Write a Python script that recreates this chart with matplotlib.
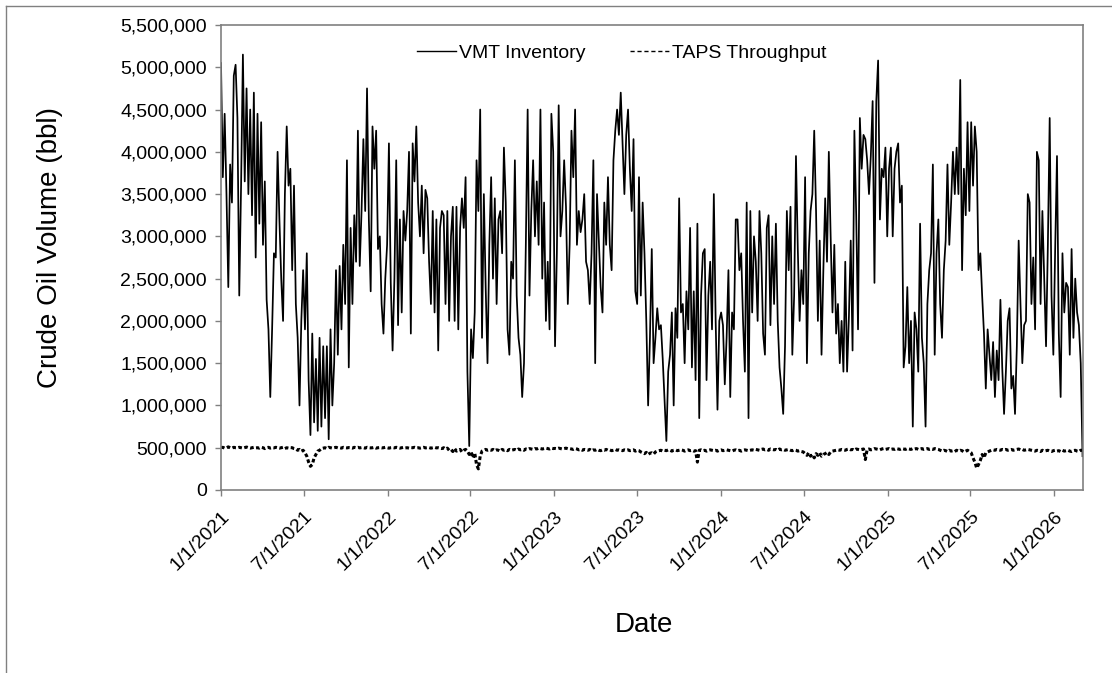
import matplotlib
matplotlib.use("Agg")
import matplotlib.pyplot as plt
import matplotlib.dates as mdates
from matplotlib.lines import Line2D
from matplotlib.ticker import FuncFormatter
import pandas as pd

plt.rcParams["font.family"] = ["Liberation Sans", "DejaVu Sans"]

# ── data (thousand bbl, one reading every 4 days from 1/1/2021) ──────────────
START = "2021-01-01"
STEP = "4D"

VMT_INVENTORY_K = [
    5050, 3700, 4450, 3500, 2400, 3850, 3400, 4900, 5030, 4400,
    2300, 3600, 5150, 3650, 4750, 3500, 4500, 3250, 4700, 2750,
    4450, 3150, 4350, 2900, 3650, 2250, 1900, 1100, 1900, 2800,
    2750, 4000, 3200, 2500, 2000, 3500, 4300, 3600, 3800, 2600,
    3600, 2200, 1800, 1000, 2000, 2600, 1900, 2800, 1300, 650,
    1850, 800, 1550, 700, 1800, 750, 1700, 850, 1700, 600,
    1900, 1000, 1500, 2600, 1600, 2650, 1900, 2900, 2200, 3900,
    1450, 3100, 2200, 3250, 2700, 4250, 2650, 3300, 4150, 3300,
    4750, 3200, 2350, 4300, 3800, 4250, 2850, 3000, 2200, 1850,
    2500, 2900, 4100, 2450, 1650, 2500, 3900, 1950, 3200, 2100,
    3300, 2950, 3300, 4000, 1850, 4100, 3650, 4300, 3400, 3000,
    3600, 2800, 3550, 3450, 2700, 2200, 3300, 2100, 3200, 1650,
    3100, 3300, 3250, 2200, 3300, 2000, 3000, 3350, 2000, 3350,
    1900, 3100, 3450, 3100, 3700, 1400, 520, 1900, 1560, 2100,
    3900, 3300, 4500, 1800, 3500, 2400, 1500, 2900, 3700, 2500,
    3450, 2200, 3200, 3300, 2800, 4050, 3400, 1900, 1600, 2700,
    2500, 3900, 2300, 1800, 1600, 1100, 1500, 2900, 4500, 2300,
    3300, 3900, 3000, 3650, 2900, 4500, 2500, 3400, 2000, 2700,
    1900, 4450, 4000, 1700, 2800, 4550, 3000, 3300, 3900, 3350,
    2200, 2900, 4250, 3700, 4500, 2900, 3300, 3050, 3200, 3500,
    2700, 2600, 2200, 2800, 3900, 1500, 3500, 2950, 2400, 2100,
    3400, 2900, 3700, 2900, 2600, 3900, 4250, 4500, 4200, 4700,
    4100, 3500, 4200, 4500, 3800, 3300, 4150, 2350, 2200, 3700,
    2300, 3400, 2800, 2000, 1000, 1800, 2850, 1500, 1800, 2150,
    1900, 1950, 1550, 1050, 580, 1400, 1600, 2100, 1000, 2150,
    1800, 3450, 2100, 2200, 1500, 2350, 1900, 3100, 1450, 2350,
    1300, 3150, 850, 2300, 2800, 2850, 1300, 2300, 2700, 1900,
    3500, 2000, 950, 2000, 2100, 1950, 1250, 1800, 2600, 1100,
    2100, 1900, 3200, 3200, 2600, 2800, 2000, 1400, 3400, 850,
    3300, 2100, 3000, 2700, 2000, 3300, 2800, 1850, 1600, 3100,
    3250, 1950, 3000, 2200, 3150, 2000, 1450, 1200, 900, 1700,
    3300, 2600, 3350, 1600, 2300, 3950, 2850, 2000, 2600, 2200,
    3700, 1500, 2800, 3300, 3500, 4250, 3300, 2000, 2950, 1600,
    2600, 3450, 2700, 4000, 3000, 2100, 2900, 1850, 2200, 1500,
    2000, 1400, 2700, 1400, 2050, 2950, 1650, 4250, 3250, 1900,
    4400, 3800, 4200, 4150, 3900, 3500, 3950, 4600, 2450, 4600,
    5080, 3200, 3800, 3700, 4050, 3000, 3800, 4050, 3000, 3800,
    4000, 4100, 3400, 3600, 1450, 1700, 2400, 1500, 2000, 750,
    2100, 1900, 1400, 3150, 1800, 1500, 750, 2200, 2600, 2800,
    3850, 1600, 2800, 3200, 2200, 1800, 2600, 2950, 3850, 2900,
    3400, 4000, 3500, 4050, 3500, 4850, 2600, 3800, 3250, 4350,
    3300, 4350, 3600, 4300, 4000, 2600, 2800, 2300, 1850, 1200,
    1900, 1600, 1300, 1750, 1100, 1650, 1300, 2250, 1450, 900,
    1400, 2000, 2150, 1200, 1350, 900, 1700, 2950, 2200, 1500,
    1950, 2000, 3500, 3400, 2200, 2750, 1900, 4000, 3900, 2200,
    3300, 2500, 1700, 2900, 4400, 2300, 1600, 2850, 3950, 1850,
    1100, 2800, 2100, 2450, 2400, 1600, 2850, 1800, 2500, 2100,
    1950, 1500, 400,
]

TAPS_THROUGHPUT_K = [
    500, 505, 495, 500, 510, 500, 495, 505, 500, 498,
    505, 500, 495, 502, 508, 500, 495, 500, 505, 498,
    500, 495, 505, 500, 490, 500, 505, 495, 500, 498,
    505, 500, 495, 500, 505, 490, 500, 495, 502, 500,
    490, 485,
    470, 480, 460, 470, 440, 400, 330, 280, 300, 380, 420, 460, 470, 490,
    495, 500, 490, 505, 500, 495, 500, 505, 498, 500, 495, 505, 500, 498,
    502, 500, 495, 505,
    500, 505, 498, 502, 500, 495, 505, 500, 498, 500,
    505, 495, 500, 502, 498, 500, 505, 500, 495, 500,
    502, 498, 505, 500, 495, 500, 505, 498, 500, 495,
    502, 500, 505, 498, 500, 495, 500, 505, 498, 500,
    502, 495, 500, 505, 498, 500, 495, 490, 500, 485,
    495,
    470, 480, 455, 490, 460, 470, 480, 450, 470, 480, 460,
    420, 450, 380, 440, 300, 250, 400, 460,
    470, 480, 470, 475,
    470, 480, 465, 475, 470, 460, 480, 470, 475, 465,
    480, 470, 475, 480, 470, 485, 475, 480, 470, 485,
    480, 490, 485, 480, 490, 485, 495, 490, 485, 490,
    495, 490, 485, 495, 490, 492, 488, 495, 490, 485,
    490, 495, 488, 490, 485, 480, 490, 485, 475, 480,
    470, 480, 475, 470, 480, 465, 475, 470, 480, 470,
    465, 475, 470, 480, 470, 475, 465, 470, 480, 470,
    475, 470, 465, 475,
    470, 475, 465, 470, 475, 460, 470, 465, 450, 440,
    430, 445, 420, 435, 440, 425, 450, 460, 465, 470,
    460, 470, 465, 475, 470, 460, 470, 475, 465, 470,
    475, 470, 460, 470, 475, 465, 470, 460, 465, 330,
    470, 475, 465, 470, 460, 470, 475, 470, 465, 470,
    460, 470, 475, 465, 470, 475, 470, 465, 460, 470,
    475, 465, 470, 460, 470, 475, 470, 465, 470, 475,
    470, 480, 475, 470,
    480, 485, 475, 480, 470, 485, 480, 475, 480, 470,
    485, 475, 480, 470, 475, 480, 470, 465, 475, 470,
    460, 465, 455, 450,
    430, 410, 440, 400, 420, 380, 430, 410, 440, 400,
    420, 430, 445, 420, 450, 460,
    465, 470, 475, 470, 480, 475, 470, 480, 485, 475,
    480, 470, 485, 480, 475, 480, 485, 360, 480, 485,
    475, 480, 490, 485, 480, 475, 485, 490, 480, 485,
    490, 480, 485, 480,
    490, 485, 480, 490, 485, 480, 490, 485, 480, 490,
    485, 490, 480, 485, 490, 480, 485, 490, 480, 485,
    480, 490, 485, 480,
    470, 460, 470, 465, 455, 470, 460, 465, 455, 470,
    460, 470, 465, 450, 460, 470, 455, 440,
    380, 330, 260, 300, 350, 420, 380, 440, 450, 460,
    470, 475, 470, 480, 475, 470, 480, 475, 480, 470,
    475, 480, 470, 475, 480, 485, 475, 480, 470, 475,
    480, 475,
    470, 465, 460, 470, 465, 455, 470, 460, 465, 470,
    460, 455, 465, 470, 460, 465, 455, 470, 460, 465,
    470, 460, 455, 465, 470, 460, 455, 470, 470,
]

X_TICK_DATES = ["2021-01-01", "2021-07-01", "2022-01-01", "2022-07-01",
                "2023-01-01", "2023-07-01", "2024-01-01", "2024-07-01",
                "2025-01-01", "2025-07-01", "2026-01-01"]
X_END = "2026-03-05"
Y_TICKS = [0, 500000, 1000000, 1500000, 2000000, 2500000, 3000000,
           3500000, 4000000, 4500000, 5000000, 5500000]

GRAY = "#808080"


def main():
    vmt_dates = pd.date_range(START, periods=len(VMT_INVENTORY_K), freq=STEP)
    taps_dates = pd.date_range(START, periods=len(TAPS_THROUGHPUT_K), freq=STEP)
    vmt = [v * 1000 for v in VMT_INVENTORY_K]
    taps = [v * 1000 for v in TAPS_THROUGHPUT_K]

    fig = plt.figure(figsize=(11.12, 6.73), dpi=100)
    ax = fig.add_axes([221 / 1112, 1 - 490 / 673, (1083 - 221) / 1112, (490 - 25) / 673])

    ax.plot(vmt_dates, vmt, color="black", lw=1.25)
    ax.plot(taps_dates, taps, color="black", lw=2.2, linestyle=(0, (1.2, 0.8)))

    ax.set_xlim(pd.Timestamp(START), pd.Timestamp(X_END))
    ax.set_ylim(0, 5500000)
    ax.set_yticks(Y_TICKS)
    ax.yaxis.set_major_formatter(FuncFormatter(lambda v, p: f"{int(v):,}"))
    ax.set_xticks([pd.Timestamp(d) for d in X_TICK_DATES])
    ax.xaxis.set_major_formatter(FuncFormatter(
        lambda v, p: (lambda d: f"{d.month}/{d.day}/{d.year}")(mdates.num2date(v))))

    ax.tick_params(axis="both", direction="out", length=4, width=1.0,
                   color=GRAY, labelsize=14, labelcolor="black")
    ax.tick_params(axis="y", pad=6)
    ax.tick_params(axis="x", pad=9)
    for lbl in ax.get_xticklabels():
        lbl.set_rotation(45)
        lbl.set_ha("right")
        lbl.set_rotation_mode("anchor")
    for s in ax.spines.values():
        s.set_color(GRAY)
        s.set_linewidth(1.2)

    handles = [Line2D([], [], color="black", lw=1.0),
               Line2D([], [], color="black", lw=1.0, linestyle=(0, (3, 2)))]
    fig.legend(handles, ["VMT Inventory", "TAPS Throughput"], loc="center",
               bbox_to_anchor=(622 / 1112, 1 - 53 / 673), ncol=2, frameon=False,
               fontsize=14, handlelength=2.0, handletextpad=0.15, columnspacing=2.3)

    fig.text(50 / 1112, 1 - 248 / 673, "Crude Oil Volume (bbl)", rotation=90,
             ha="center", va="center", fontsize=20)
    fig.text(644 / 1112, 1 - 625 / 673, "Date", ha="center", va="center", fontsize=20)

    # outer chart frame (only left and top edges fall inside the picture)
    fig.add_artist(Line2D([6 / 1112, 6 / 1112], [0, 1 - 6 / 673],
                          transform=fig.transFigure, color=GRAY, lw=1.0))
    fig.add_artist(Line2D([6 / 1112, 1], [1 - 6 / 673, 1 - 6 / 673],
                          transform=fig.transFigure, color=GRAY, lw=1.0))

    fig.savefig("out.png", dpi=100)


if __name__ == "__main__":
    main()
